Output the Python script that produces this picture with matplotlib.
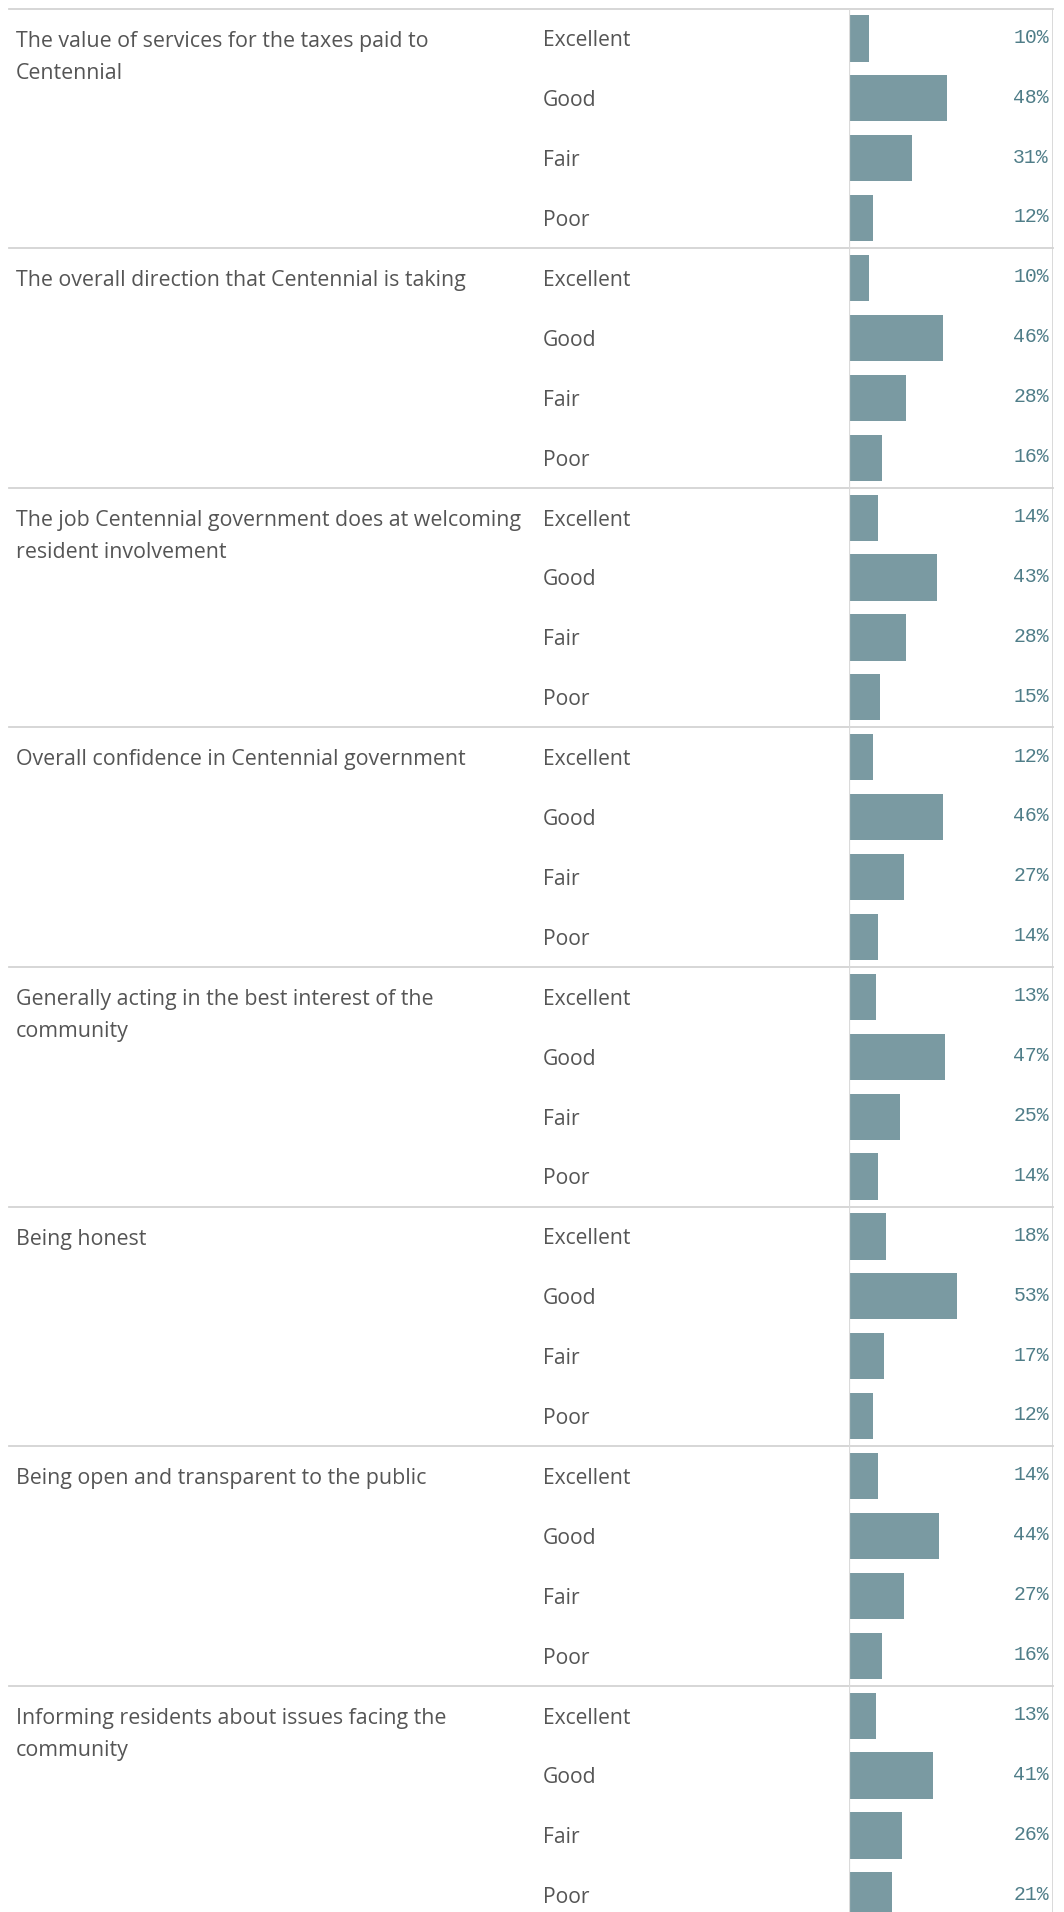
import matplotlib
matplotlib.use("Agg")
import matplotlib.pyplot as plt
import matplotlib.transforms as mtransforms

# survey data
questions = [
    "The value of services for the taxes paid to\nCentennial",
    "The overall direction that Centennial is taking",
    "The job Centennial government does at welcoming\nresident involvement",
    "Overall confidence in Centennial government",
    "Generally acting in the best interest of the\ncommunity",
    "Being honest",
    "Being open and transparent to the public",
    "Informing residents about issues facing the\ncommunity",
]
ratings = ["Excellent", "Good", "Fair", "Poor"]
pct = [
    [10, 48, 31, 12],
    [10, 46, 28, 16],
    [14, 43, 28, 15],
    [12, 46, 27, 14],
    [13, 47, 25, 14],
    [18, 53, 17, 12],
    [14, 44, 27, 16],
    [13, 41, 26, 21],
]

W, H = 1064, 1912
bar_color = "#7a9aa2"
text_color = "#555555"
pct_color = "#4f7d88"
line_color = "#d3d3d3"
sans = ["Open Sans", "DejaVu Sans"]

fig = plt.figure(figsize=(W / 100, H / 100), dpi=100)
top_px = 8.5
row_px = 239.6 / 4
ax = fig.add_axes([849 / W, 0, (1053 - 849) / W, (H - top_px) / H])
nrows_vis = (H - top_px) / row_px
ax.set_ylim(-0.5 + nrows_vis, -0.5)
ax.set_xlim(0, 100)
ax.axis("off")

ys, vals = [], []
for g, row in enumerate(pct):
    for r, v in enumerate(row):
        ys.append(4 * g + r)
        vals.append(v)
ax.barh(ys, vals, height=0.77, color=bar_color, zorder=2)

figx = mtransforms.blended_transform_factory(fig.transFigure, ax.transData)

for g, q in enumerate(questions):
    y0 = 4 * g
    ax.text(16 / W, y0 - 0.13, q, transform=figx, ha="left", va="top",
            fontsize=15.4, color=text_color, family=sans, linespacing=1.68)
    for r, lab in enumerate(ratings):
        ax.text(543 / W, y0 + r + 0.04, lab, transform=figx, ha="left", va="center",
                fontsize=15.2, color=text_color, family=sans)
        ax.text(98, y0 + r - 0.02, f"{pct[g][r]}%", ha="right", va="center",
                fontsize=14.2, color=pct_color, family=["Liberation Mono", "DejaVu Sans Mono"])
    # separator above each group
    ax.plot([8.5 / W, 1053 / W], [y0 - 0.5, y0 - 0.5], transform=figx,
            color=line_color, lw=1.3, clip_on=False, zorder=3)

# axis line at zero and right border
ax.axvline(0, color="#dadada", lw=1.6, zorder=3)
ax.axvline(100, color=line_color, lw=1.2, zorder=3)

fig.savefig("out.png", dpi=100)
